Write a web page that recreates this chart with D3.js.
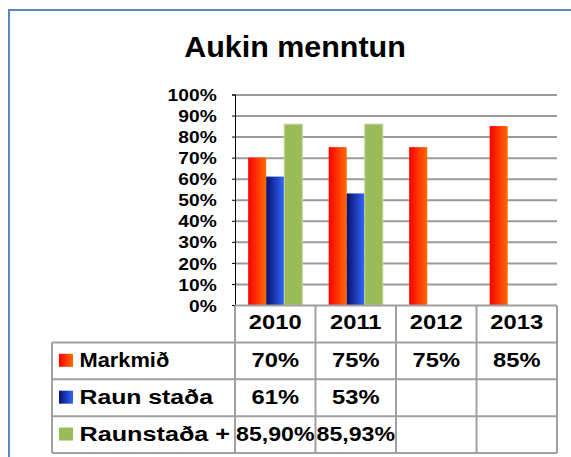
<!DOCTYPE html>
<html>
<head>
<meta charset="utf-8">
<script src="https://cdn.jsdelivr.net/npm/d3@7"></script>
<style>
  body { margin: 0; background: #fff; overflow: hidden; }
  svg { display: block; }
  svg text { font-family: "Liberation Sans", Arial, sans-serif; font-weight: bold; fill: #000; }
</style>
</head>
<body>
<script>
// chart data
const years = ['2010', '2011', '2012', '2013']
const series = ['Markmið', 'Raun staða', 'Raunstaða +']
const markmid = [0.70, 0.75, 0.75, 0.85]
const raunStada = [0.61, 0.53, null, null]
const raunstadaPlus = [0.8590, 0.8593, null, null]
const yTicks = [0, 0.1, 0.2, 0.3, 0.4, 0.5, 0.6, 0.7, 0.8, 0.9, 1]

const values = [markmid, raunStada, raunstadaPlus]
const fills = ['url(#gRed)', 'url(#gBlue)', '#9BBB59']
const stretch = 1.13   // text in the original is a bit wider than Arial

const W = 571, H = 457
const plot = { left: 235, right: 557, top: 94.5, bottom: 305 }
const table = { left: 52, bottom: 453 }

const comma = d3.formatLocale({ decimal: ',', thousands: '.', grouping: [3], currency: ['', ''] })
const fmt = [d3.format('.0%'), d3.format('.0%'), comma.format('.2%')]

const svg = d3.select('body').append('svg')
  .attr('width', W)
  .attr('height', H)

const defs = svg.append('defs')
function gradient(id, from, to) {
  const g = defs.append('linearGradient').attr('id', id)
    .attr('x1', '0%').attr('x2', '100%').attr('y1', '0%').attr('y2', '0%')
  g.append('stop').attr('offset', '0%').attr('stop-color', from)
  g.append('stop').attr('offset', '100%').attr('stop-color', to)
}
gradient('gRed', '#FF0000', '#FF6A00')
gradient('gBlue', '#08106A', '#3366FF')

// outer frame (only left and top edges are inside the picture)
svg.append('path')
  .attr('d', `M9,${H + 5}V10H${W + 5}`)
  .attr('fill', 'none')
  .attr('stroke', '#5B86C2')
  .attr('stroke-width', 2)

// helper for horizontally stretched text
function stretchText(sel, x, y, sx) {
  return sel.attr('transform', `translate(${x},${y}) scale(${sx},1)`)
}

stretchText(svg.append('text'), 295, 56.7, 1.05)
  .attr('text-anchor', 'middle')
  .attr('font-size', 29)
  .text('Aukin menntun')

const x0 = d3.scaleBand()
  .domain(years)
  .range([plot.left, plot.right])

const x1 = d3.scaleBand()
  .domain(series)
  .range([0, x0.bandwidth()])
  .paddingOuter(0.73)

const y = d3.scaleLinear()
  .domain([0, 1])
  .range([plot.bottom, plot.top])

// gridlines
const grid = svg.append('g')
  .attr('transform', `translate(${plot.left},0)`)
  .call(d3.axisLeft(y).tickValues(yTicks.slice(1)).tickSize(-(plot.right - plot.left)).tickFormat(''))
grid.select('.domain').remove()
grid.selectAll('.tick line')
  .attr('stroke', '#9A9A9A')
  .attr('stroke-width', 2)

// y axis
const yAxis = svg.append('g')
  .attr('transform', `translate(${plot.left},0)`)
  .call(d3.axisLeft(y).tickValues(yTicks).tickSize(3).tickFormat(d3.format('.0%')))
yAxis.select('.domain').attr('stroke', '#000')
yAxis.selectAll('.tick line').attr('stroke', '#000')
yAxis.selectAll('.tick text')
  .attr('font-size', 17)
  .attr('font-family', '"Liberation Sans", Arial, sans-serif')
  .attr('x', -18.3 / stretch)
  .attr('dy', '0.36em')
  .attr('transform', `scale(${stretch},1)`)

// bars
const barData = []
series.forEach((s, i) => {
  years.forEach((yr, j) => {
    if (values[i][j] != null) barData.push({ s, i, yr, v: values[i][j] })
  })
})

svg.append('g').selectAll('rect')
  .data(barData)
  .join('rect')
  .attr('x', d => x0(d.yr) + x1(d.s))
  .attr('width', x1.bandwidth())
  .attr('y', d => y(d.v))
  .attr('height', d => y(0) - y(d.v))
  .attr('fill', d => fills[d.i])
  .attr('stroke', d => d.i === 2 ? '#C3D69B' : 'none')
  .attr('stroke-width', 1)

// data table
const rows = d3.scaleBand()
  .domain(['header'].concat(series))
  .range([plot.bottom + 0.5, table.bottom])

const tbl = svg.append('g')
const lineColor = '#A0A0A0'

// horizontal lines
tbl.selectAll('line.h')
  .data(['header'].concat(series).concat(['end']))
  .join('line')
  .attr('class', 'h')
  .attr('x1', d => d === 'header' ? plot.left : table.left)
  .attr('x2', plot.right)
  .attr('y1', d => d === 'end' ? table.bottom : rows(d))
  .attr('y2', d => d === 'end' ? table.bottom : rows(d))
  .attr('stroke', lineColor)
  .attr('stroke-width', 2)

// vertical lines
const colEdges = years.map(yr => x0(yr)).concat([plot.right])
tbl.selectAll('line.v')
  .data(colEdges)
  .join('line')
  .attr('class', 'v')
  .attr('x1', d => d).attr('x2', d => d)
  .attr('y1', rows('header'))
  .attr('y2', table.bottom)
  .attr('stroke', lineColor)
  .attr('stroke-width', 2)

tbl.append('line')
  .attr('x1', table.left).attr('x2', table.left)
  .attr('y1', rows(series[0])).attr('y2', table.bottom)
  .attr('stroke', lineColor)
  .attr('stroke-width', 2)

// year headers
years.forEach(yr => {
  stretchText(tbl.append('text'), x0(yr) + x0.bandwidth() / 2, rows('header') + 23.8, stretch)
    .attr('text-anchor', 'middle')
    .attr('font-size', 21)
    .text(yr)
})

// series rows
series.forEach((s, i) => {
  const top = rows(s)
  tbl.append('rect')
    .attr('x', 59)
    .attr('y', top + rows.bandwidth() / 2 - 7)
    .attr('width', 14)
    .attr('height', 13)
    .attr('fill', fills[i])
  stretchText(tbl.append('text'), 79.5, top + 25, i === 0 ? 1.04 : (i === 1 ? 1.18 : 1.2))
    .attr('font-size', 21)
    .text(s)
  years.forEach((yr, j) => {
    if (values[i][j] == null) return
    stretchText(tbl.append('text'), x0(yr) + x0.bandwidth() / 2, top + 25, i === 2 ? 1.1 : stretch)
      .attr('text-anchor', 'middle')
      .attr('font-size', 21)
      .text(fmt[i](values[i][j]))
  })
})
</script>
</body>
</html>
